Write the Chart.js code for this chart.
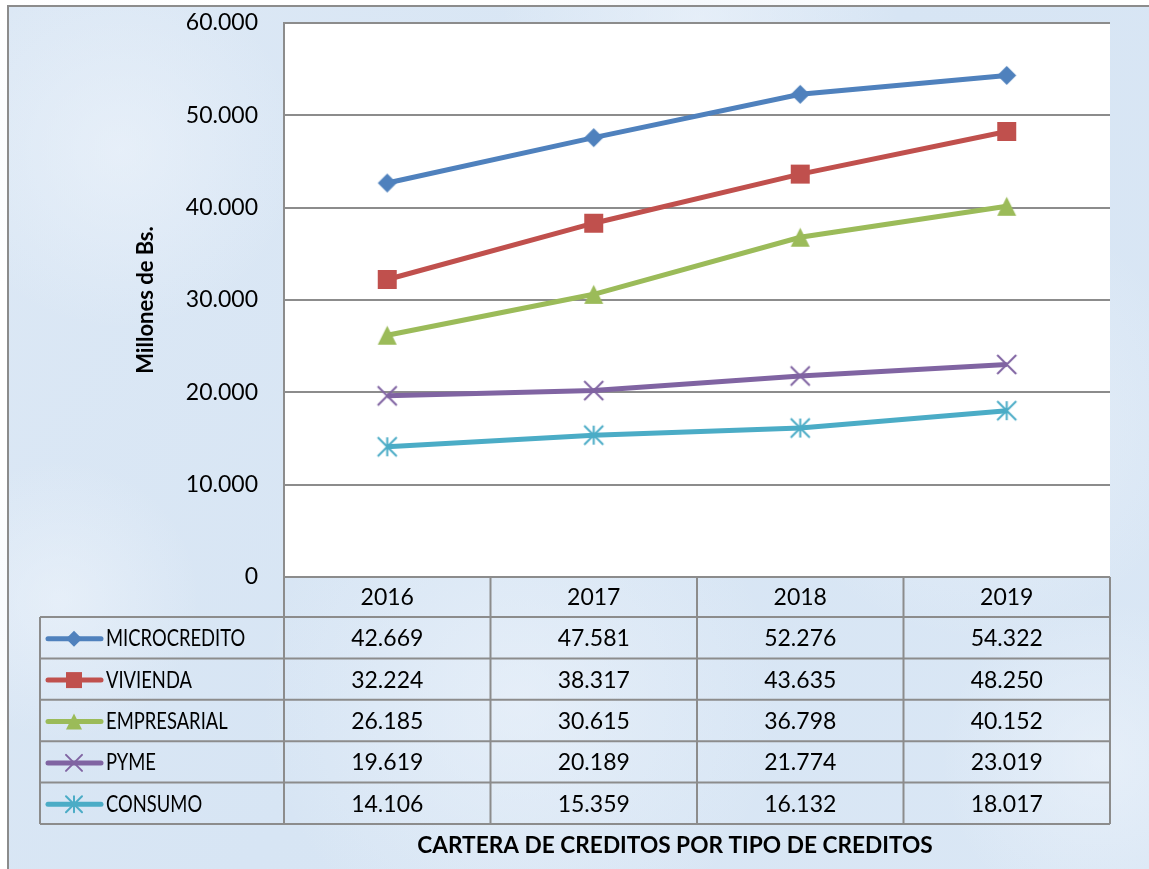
<!DOCTYPE html>
<html>
<head>
<meta charset="utf-8">
<title>Cartera de creditos por tipo de creditos</title>
<script src="https://cdn.jsdelivr.net/npm/chart.js@4.4.1/dist/chart.umd.min.js"></script>
<style>
    html, body { margin: 0; padding: 0; background: #fff; }
    #wrap { width: 1149px; height: 869px; }
</style>
</head>
<body>
<div id="wrap"><canvas id="creditChart" width="1149" height="869"></canvas></div>
<script>
const years = ['2016', '2017', '2018', '2019'];
const microcredito = [42669, 47581, 52276, 54322];
const vivienda = [32224, 38317, 43635, 48250];
const empresarial = [26185, 30615, 36798, 40152];
const pyme = [19619, 20189, 21774, 23019];
const consumo = [14106, 15359, 16132, 18017];

const seriesNames = ['MICROCREDITO', 'VIVIENDA', 'EMPRESARIAL', 'PYME', 'CONSUMO'];
const seriesValues = [microcredito, vivienda, empresarial, pyme, consumo];
const seriesColors = ['#4f81bd', '#c0504d', '#9bbb59', '#8064a2', '#4bacc6'];
const seriesMarkers = ['diamond', 'square', 'triangle', 'x', 'star'];

const yMin = 0;
const yMax = 60000;
const yStep = 10000;

const yTitle = 'Millones de Bs.';
const tableTitle = 'CARTERA DE CREDITOS POR TIPO DE CREDITOS';

const FONT = 'Lato, "Open Sans", sans-serif';
const GRID = '#8c8c8c';

// 42669 -> "42.669"
function fmt(v) {
    return String(v).replace(/\B(?=(\d{3})+(?!\d))/g, '.');
}

function drawMarker(ctx, style, x, y, s, color) {
    const h = s / 2;
    ctx.save();
    ctx.fillStyle = color;
    ctx.strokeStyle = color;
    ctx.lineWidth = 2;
    ctx.beginPath();
    if (style === 'diamond') {
        ctx.moveTo(x, y - h);
        ctx.lineTo(x + h, y);
        ctx.lineTo(x, y + h);
        ctx.lineTo(x - h, y);
        ctx.closePath();
        ctx.fill();
    } else if (style === 'square') {
        ctx.rect(x - h, y - h, s, s);
        ctx.fill();
    } else if (style === 'triangle') {
        ctx.moveTo(x, y - h);
        ctx.lineTo(x + h, y + h);
        ctx.lineTo(x - h, y + h);
        ctx.closePath();
        ctx.fill();
    } else {
        ctx.moveTo(x - h, y - h);
        ctx.lineTo(x + h, y + h);
        ctx.moveTo(x + h, y - h);
        ctx.lineTo(x - h, y + h);
        if (style === 'star') {
            ctx.moveTo(x, y - h);
            ctx.lineTo(x, y + h);
        }
        ctx.stroke();
    }
    ctx.restore();
}

function markerImage(style, s, color) {
    const c = document.createElement('canvas');
    c.width = s + 4;
    c.height = s + 4;
    drawMarker(c.getContext('2d'), style, c.width / 2, c.height / 2, s, color);
    return c;
}

// light blue paper behind everything, white plot area
const backdropPlugin = {
    id: 'backdrop',
    beforeDraw(chart) {
        const { ctx, width, height, chartArea: a } = chart;
        ctx.save();
        ctx.fillStyle = '#ffffff';
        ctx.fillRect(0, 0, width, height);

        const g = ctx.createLinearGradient(0, 0, width, height);
        g.addColorStop(0, '#dce8f5');
        g.addColorStop(0.5, '#d7e5f4');
        g.addColorStop(1, '#dae7f5');
        ctx.fillStyle = g;
        ctx.fillRect(8, 6, width, height);

        const spots = [[120, 150, 180], [980, 420, 220], [520, 700, 260], [1100, 760, 160], [60, 600, 140], [700, 20, 200]];
        spots.forEach(([x, y, r]) => {
            const rg = ctx.createRadialGradient(x, y, 0, x, y, r);
            rg.addColorStop(0, 'rgba(238,244,251,0.6)');
            rg.addColorStop(1, 'rgba(238,244,251,0)');
            ctx.fillStyle = rg;
            ctx.fillRect(x - r, y - r, r * 2, r * 2);
        });

        ctx.strokeStyle = GRID;
        ctx.lineWidth = 2;
        ctx.strokeRect(8, 6, width + 10, height + 10);

        ctx.fillStyle = '#ffffff';
        ctx.fillRect(a.left, a.top, a.right - a.left, a.bottom - a.top);
        ctx.restore();
    }
};

// data table under the plot, columns taken from the x scale
const tablePlugin = {
    id: 'dataTable',
    afterDraw(chart) {
        const { ctx, chartArea: a } = chart;
        const xs = chart.scales.x;
        const step = (a.right - a.left) / years.length;
        const top = a.bottom;
        const headH = 40;
        const rowH = 41.4;
        const tableLeft = 40;
        const bottom = top + headH + rowH * seriesNames.length;

        ctx.save();
        ctx.strokeStyle = GRID;
        ctx.lineWidth = 2;
        ctx.beginPath();
        ctx.moveTo(a.left, top);
        ctx.lineTo(a.right, top);
        for (let r = 0; r <= seriesNames.length; r++) {
            const y = top + headH + rowH * r;
            ctx.moveTo(tableLeft, y);
            ctx.lineTo(a.right, y);
        }
        ctx.moveTo(tableLeft, top + headH);
        ctx.lineTo(tableLeft, bottom);
        for (let i = 0; i <= years.length; i++) {
            const x = a.left + step * i;
            ctx.moveTo(x, top);
            ctx.lineTo(x, bottom);
        }
        ctx.stroke();

        ctx.fillStyle = '#000';
        ctx.font = '23px ' + FONT;
        ctx.textAlign = 'center';
        ctx.textBaseline = 'middle';
        years.forEach((yr, i) => {
            ctx.fillText(yr, xs.getPixelForValue(i), top + headH / 2 + 1);
        });

        seriesNames.forEach((name, r) => {
            const cy = top + headH + rowH * r + rowH / 2 + 1;
            const color = seriesColors[r];
            ctx.strokeStyle = color;
            ctx.lineWidth = 5;
            ctx.lineCap = 'round';
            ctx.beginPath();
            ctx.moveTo(48, cy);
            ctx.lineTo(101, cy);
            ctx.stroke();
            drawMarker(ctx, seriesMarkers[r], 74, cy, 16, color);

            ctx.fillStyle = '#000';
            ctx.textAlign = 'left';
            // Calibri-like narrow capitals
            ctx.fillText(name, 106, cy, ctx.measureText(name).width * 0.8);
            ctx.textAlign = 'center';
            seriesValues[r].forEach((v, i) => {
                ctx.fillText(fmt(v), xs.getPixelForValue(i), cy);
            });
        });

        ctx.font = 'bold 23px ' + FONT;
        ctx.fillText(tableTitle, 675, 846, ctx.measureText(tableTitle).width * 0.985);
        ctx.restore();
    }
};

const datasets = seriesNames.map((name, i) => ({
    label: name,
    data: seriesValues[i],
    borderColor: seriesColors[i],
    backgroundColor: seriesColors[i],
    borderWidth: 5,
    pointStyle: markerImage(seriesMarkers[i], 19, seriesColors[i]),
    pointRadius: 10,
    tension: 0,
    fill: false
}));

new Chart(document.getElementById('creditChart'), {
    type: 'line',
    data: { labels: years, datasets: datasets },
    plugins: [backdropPlugin, tablePlugin],
    options: {
        responsive: false,
        animation: false,
        events: [],
        layout: { padding: { left: 8, top: 23, right: 39, bottom: 292 } },
        plugins: {
            legend: { display: false },
            tooltip: { enabled: false }
        },
        scales: {
            x: {
                display: false,
                offset: true
            },
            y: {
                min: yMin,
                max: yMax,
                afterFit: (scale) => {
                    scale.width = 276;
                    // tick padding is horizontal only here
                    scale.paddingTop = 14;
                    scale.paddingBottom = 14;
                },
                ticks: {
                    stepSize: yStep,
                    padding: 26,
                    color: '#000',
                    font: { family: FONT, size: 23 },
                    callback: (v) => fmt(v)
                },
                grid: { color: GRID, lineWidth: 2, drawTicks: false },
                border: { color: GRID, width: 2 },
                title: {
                    display: true,
                    text: yTitle,
                    color: '#000',
                    font: { family: FONT, size: 22, weight: 'bold' },
                    padding: { top: 125, bottom: 0 }
                }
            }
        }
    }
});
</script>
</body>
</html>
